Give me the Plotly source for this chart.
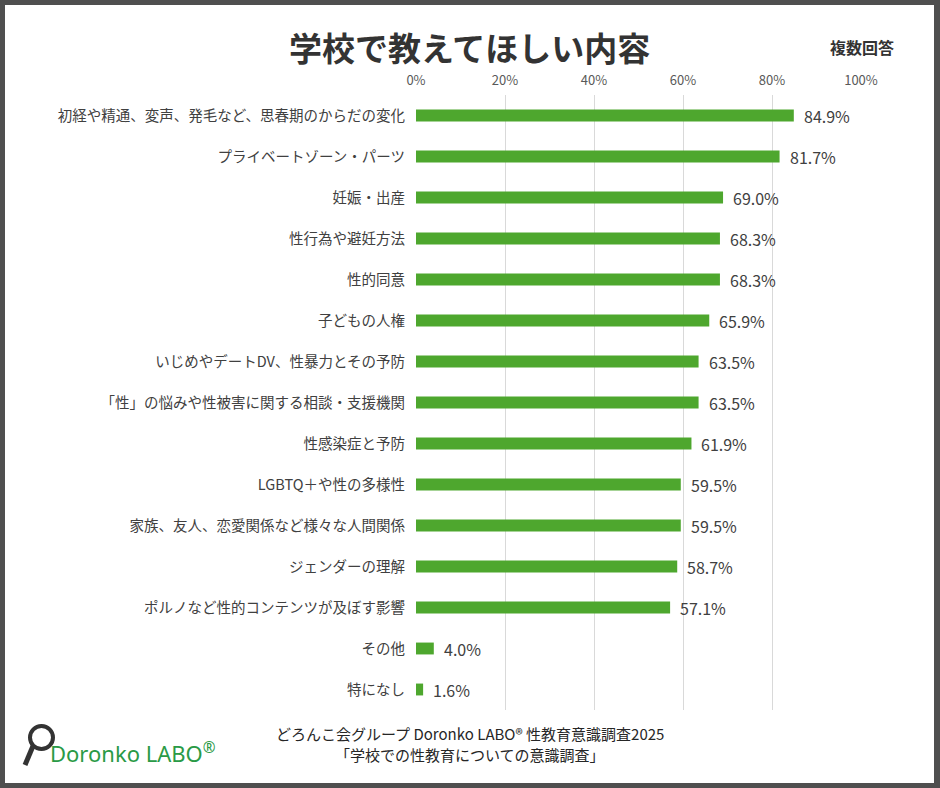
import plotly.graph_objects as go

categories = [
    "初経や精通、変声、発毛など、思春期のからだの変化",
    "プライベートゾーン・パーツ",
    "妊娠・出産",
    "性行為や避妊方法",
    "性的同意",
    "子どもの人権",
    "いじめやデートDV、性暴力とその予防",
    "「性」の悩みや性被害に関する相談・支援機関",
    "性感染症と予防",
    "LGBTQ＋や性の多様性",
    "家族、友人、恋愛関係など様々な人間関係",
    "ジェンダーの理解",
    "ポルノなど性的コンテンツが及ぼす影響",
    "その他",
    "特になし",
]
values = [84.9, 81.7, 69.0, 68.3, 68.3, 65.9, 63.5, 63.5, 61.9, 59.5, 59.5, 58.7, 57.1, 4.0, 1.6]
tick_values = [0, 20, 40, 60, 80, 100]
tick_labels = ["0%", "20%", "40%", "60%", "80%", "100%"]
title_text = "学校で教えてほしい内容"
note_text = "複数回答"
footer_lines = ["どろんこ会グループ Doronko LABO® 性教育意識調査2025", "「学校での性教育についての意識調査」"]

W, H = 940, 788
L, R, T, B = 416, 861, 95, 710
JP = "Noto Sans CJK JP, Noto Sans, sans-serif"
GREEN = "#4EA72E"
TXT = "#404040"


def px(x):
    return (x - L) / (R - L)


def py(y):
    return (B - y) / (B - T)


fig = go.Figure()
fig.add_trace(go.Bar(
    x=values, y=categories, orientation="h",
    marker=dict(color=GREEN, line=dict(width=0)),
    width=0.29, hoverinfo="skip",
))

annotations = []
for c, v in zip(categories, values):
    annotations.append(dict(
        x=v, y=c, xref="x", yref="y", text=f"{v:.1f}%", showarrow=False,
        xanchor="left", xshift=8, font=dict(family=JP, size=16, color=TXT),
    ))

annotations.append(dict(x=px(469), y=py(47), xref="paper", yref="paper", text=f"<b>{title_text}</b>",
                        showarrow=False, xanchor="center", yanchor="middle",
                        font=dict(family=JP, size=33, color="#333333")))
annotations.append(dict(x=px(862), y=py(47), xref="paper", yref="paper", text=f"<b>{note_text}</b>",
                        showarrow=False, xanchor="center", yanchor="middle",
                        font=dict(family=JP, size=16, color="#333333")))
for i, line in enumerate(footer_lines):
    annotations.append(dict(x=px(470), y=py(733 + 21 * i), xref="paper", yref="paper", text=line,
                            showarrow=False, xanchor="center", yanchor="middle",
                            font=dict(family=JP, size=15, color="#262626")))
annotations.append(dict(x=px(48), y=py(752), xref="paper", yref="paper",
                        text="Doronko LABO<sup>®</sup>", showarrow=False, xanchor="left", yanchor="middle",
                        font=dict(family="Noto Sans, sans-serif", size=22, color="#2A9A46")))

shapes = [
    dict(type="rect", xref="paper", yref="paper", x0=px(5), x1=px(934), y0=py(5), y1=py(783),
         fillcolor="white", line=dict(width=0), layer="below"),
    dict(type="circle", xref="paper", yref="paper", x0=px(30), x1=px(53), y0=py(726), y1=py(749),
         line=dict(color="#333333", width=4), layer="above"),
    dict(type="line", xref="paper", yref="paper", x0=px(33), x1=px(25), y0=py(746), y1=py(765),
         line=dict(color="#333333", width=5), layer="above"),
]

fig.update_layout(
    width=W, height=H,
    margin=dict(l=L, r=W - R, t=T, b=H - B, pad=0),
    paper_bgcolor="#4F4F4F", plot_bgcolor="white",
    showlegend=False, bargap=0.7,
    annotations=annotations, shapes=shapes,
    xaxis=dict(range=[0, 100], side="top", tickmode="array", tickvals=tick_values, ticktext=tick_labels,
               showgrid=True, gridcolor="#D9D9D9", gridwidth=1, zeroline=False, showline=False,
               tickfont=dict(family=JP, size=13, color="#595959"), ticks="", ticklabelstandoff=6,
               fixedrange=True),
    yaxis=dict(autorange="reversed", showgrid=False, zeroline=False, showline=False,
               tickfont=dict(family=JP, size=14.5, color=TXT), ticks="", ticklabelstandoff=10,
               fixedrange=True),
)

fig.write_html("out.html")
